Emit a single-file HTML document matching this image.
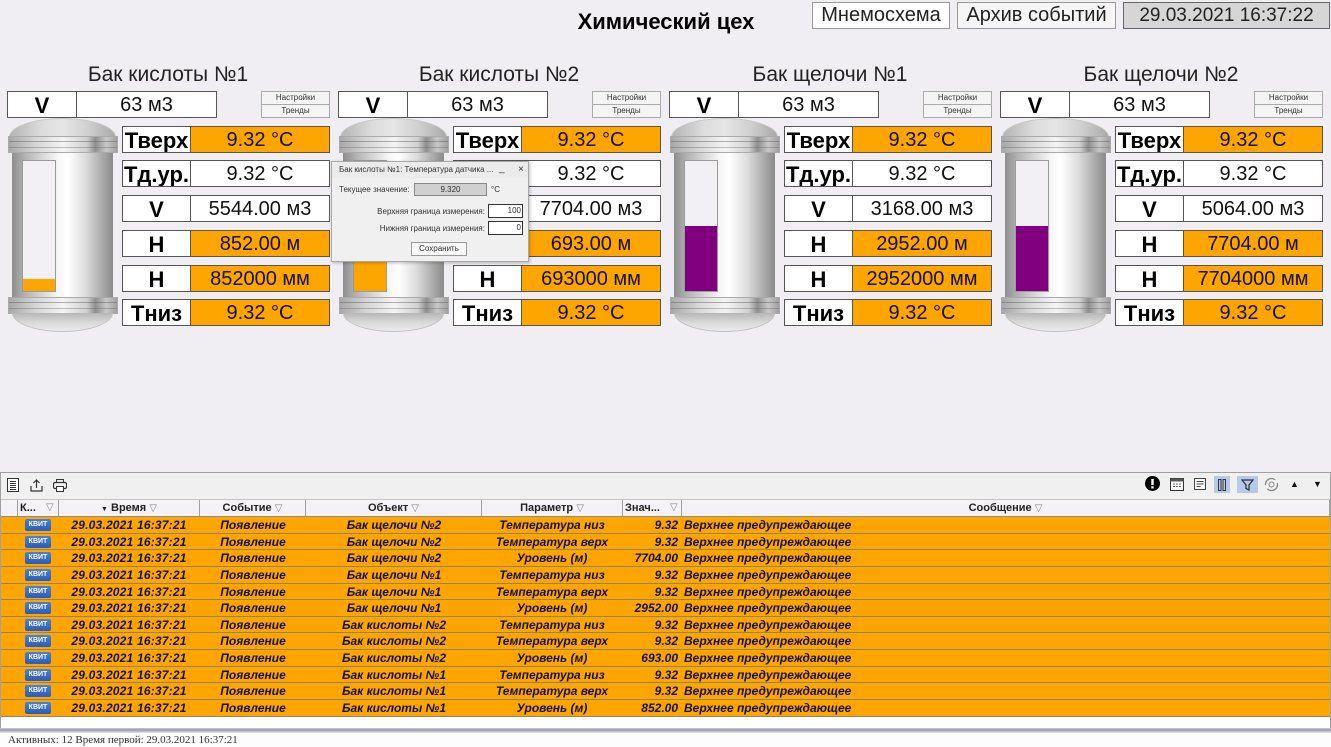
<!DOCTYPE html>
<html>
<head>
<meta charset="utf-8">
<style>
*{box-sizing:border-box;}
body{margin:0;width:1331px;height:747px;background:#f1eef3;position:relative;overflow:hidden;font-family:"Liberation Sans","DejaVu Sans",sans-serif;color:#000;}
.a{position:absolute;}
.title{left:560px;top:9px;width:212px;text-align:center;font-weight:bold;font-size:22px;line-height:26px;}
.btn{position:absolute;top:2px;height:27px;border:1px solid #999;background:#fff;font-size:20px;line-height:25px;text-align:center;color:#222;}
.unit{position:absolute;top:0;width:330px;height:340px;}
.ut{position:absolute;left:60px;top:62px;width:200px;text-align:center;font-size:21px;line-height:26px;color:#222;}
.box{position:absolute;height:27px;border:1px solid #555;background:#fff;text-align:center;line-height:27px;overflow:hidden;}
.lb{font-weight:bold;font-size:22px;}
.vl{font-size:20px;color:#111;}
.or{background:#ffa500;}
.sb{position:absolute;left:253px;width:69px;height:14px;border:1px solid #aaa;background:#f4f4f4;font-size:8px;line-height:12px;text-align:center;color:#333;}
.dome{position:absolute;left:1px;top:118px;width:107px;height:19px;border-radius:50% 50% 0 0/100% 100% 0 0;background:linear-gradient(90deg,#b4b4b4,#dcdcdc 30%,#e6e6e6 50%,#cfcfcf 75%,#a9a9a9);border:1px solid #c8c8c8;border-bottom:none;}
.fl{position:absolute;left:0;width:110px;height:17px;background:linear-gradient(90deg,#a8a8a8,#d6d6d6 25%,#f4f4f4 50%,#d0d0d0 72%,#8f8f8f 80%,#c8c8c8 90%,#a0a0a0);border:1px solid #aaa;}
.fl:before{content:"";position:absolute;left:0;right:0;top:4px;height:1px;background:rgba(90,90,90,0.45);}
.fl:after{content:"";position:absolute;left:0;right:0;top:10px;height:1px;background:rgba(90,90,90,0.35);}
.body{position:absolute;left:4px;top:152px;width:101px;height:146px;background:linear-gradient(90deg,#8e8e8e 0%,#b0b0b0 12%,#d8d8d8 30%,#f6f6f6 45%,#ffffff 55%,#dedede 72%,#b4b4b4 86%,#8a8a8a 100%);}
.bdome{position:absolute;left:4px;top:313px;width:101px;height:19px;border-radius:0 0 50% 50%/0 0 100% 100%;background:linear-gradient(180deg,#b6b6b6,#d8d8d8 50%,#ececec);border:1px solid #c0c0c0;border-top:none;}
.win{position:absolute;left:14px;top:160px;width:34px;height:132px;border:1px solid #9a9a9a;background:#f3f0f5;overflow:hidden;}
.fill{position:absolute;left:0;right:0;bottom:0;}
.panel{position:absolute;left:0;top:472px;width:1331px;height:275px;background:#fff;border-top:1px solid #a0a0a0;}
.tb{position:absolute;left:0;top:473px;width:1331px;height:27px;background:#f0f0f0;border-bottom:1px solid #c4c4c4;}
.hdr{position:absolute;left:0;top:500px;width:1331px;height:17px;background:#f4f2f6;border-bottom:1px solid #8a8a8a;font-size:11px;font-weight:bold;color:#222;}
.hc{position:absolute;top:0;height:16px;line-height:16px;border-right:1px solid #a0a0a0;text-align:center;white-space:nowrap;}
.fi{color:#888;font-weight:normal;font-size:10px;}
.row{position:absolute;left:1px;width:1329px;height:16.64px;background:#ffa500;border-bottom:1px solid #8f8272;font-size:12px;font-weight:bold;font-style:italic;color:#111;}
.row span{position:absolute;top:0;line-height:16px;white-space:nowrap;}
.kv{left:24px;top:2px!important;width:26px;height:12px;line-height:12px!important;background:linear-gradient(#4a80d8,#2a5cb8);border-radius:2px;color:#fff;font-size:7px;font-style:normal;text-align:center;letter-spacing:0!important;}
.ct{left:57px;width:142px;text-align:center;letter-spacing:0.2px;}
.ce{left:199px;width:106px;text-align:center;}
.co{left:305px;width:176px;text-align:center;}
.cp{left:481px;width:140px;text-align:center;}
.cv{left:621px;width:56px;text-align:right;}
.cm{left:683px;}
.dlg{position:absolute;left:331px;top:161px;width:198px;height:101px;background:#f0f0f0;border:1px solid #a8a8a8;box-shadow:1px 1px 3px rgba(0,0,0,0.25);font-size:8px;color:#333;z-index:10;}
.dlg .a{line-height:12px;white-space:nowrap;}
</style>
</head>
<body>

<div class="a title">Химический цех</div>
<div class="btn" style="left:812px;width:138px;">Мнемосхема</div>
<div class="btn" style="left:957px;width:159px;background:#f6f6f6;">Архив событий</div>
<div class="btn" style="left:1123px;width:207px;background:#d6d6d6;border-color:#666;font-size:19px;">29.03.2021 16:37:22</div>

<!-- Unit 1 -->
<div class="unit" style="left:8px;">
  <div class="ut">Бак кислоты №1</div>
  <div class="box lb" style="left:-1px;top:91px;width:70px;">V</div>
  <div class="box vl" style="left:68px;top:91px;width:141px;">63 м3</div>
  <div class="sb" style="top:91px;">Настройки</div>
  <div class="sb" style="top:104px;">Тренды</div>
  <div class="dome"></div>
  <div class="body"></div>
  <div class="fl" style="top:136px;"></div>
  <div class="win"><div class="fill" style="height:12px;background:#ffa500;"></div></div>
  <div class="fl" style="top:297px;"></div>
  <div class="bdome"></div>
  <div class="box lb" style="left:114px;top:126px;width:69px;">Тверх</div>
  <div class="box vl or" style="left:182px;top:126px;width:140px;">9.32 °C</div>
  <div class="box lb" style="left:114px;top:160px;width:69px;">Тд.ур.</div>
  <div class="box vl" style="left:182px;top:160px;width:140px;">9.32 °C</div>
  <div class="box lb" style="left:114px;top:195px;width:69px;">V</div>
  <div class="box vl" style="left:182px;top:195px;width:140px;">5544.00 м3</div>
  <div class="box lb" style="left:114px;top:230px;width:69px;">H</div>
  <div class="box vl or" style="left:182px;top:230px;width:140px;">852.00 м</div>
  <div class="box lb" style="left:114px;top:265px;width:69px;">H</div>
  <div class="box vl or" style="left:182px;top:265px;width:140px;">852000 мм</div>
  <div class="box lb" style="left:114px;top:299px;width:69px;">Тниз</div>
  <div class="box vl or" style="left:182px;top:299px;width:140px;">9.32 °C</div>
</div>

<!-- Unit 2 -->
<div class="unit" style="left:339px;">
  <div class="ut">Бак кислоты №2</div>
  <div class="box lb" style="left:-1px;top:91px;width:70px;">V</div>
  <div class="box vl" style="left:68px;top:91px;width:141px;">63 м3</div>
  <div class="sb" style="top:91px;">Настройки</div>
  <div class="sb" style="top:104px;">Тренды</div>
  <div class="dome"></div>
  <div class="body"></div>
  <div class="fl" style="top:136px;"></div>
  <div class="win"><div class="fill" style="height:40px;background:#ffa500;"></div></div>
  <div class="fl" style="top:297px;"></div>
  <div class="bdome"></div>
  <div class="box lb" style="left:114px;top:126px;width:69px;">Тверх</div>
  <div class="box vl or" style="left:182px;top:126px;width:140px;">9.32 °C</div>
  <div class="box lb" style="left:114px;top:160px;width:69px;">Тд.ур.</div>
  <div class="box vl" style="left:182px;top:160px;width:140px;">9.32 °C</div>
  <div class="box lb" style="left:114px;top:195px;width:69px;">V</div>
  <div class="box vl" style="left:182px;top:195px;width:140px;">7704.00 м3</div>
  <div class="box lb" style="left:114px;top:230px;width:69px;">H</div>
  <div class="box vl or" style="left:182px;top:230px;width:140px;">693.00 м</div>
  <div class="box lb" style="left:114px;top:265px;width:69px;">H</div>
  <div class="box vl or" style="left:182px;top:265px;width:140px;">693000 мм</div>
  <div class="box lb" style="left:114px;top:299px;width:69px;">Тниз</div>
  <div class="box vl or" style="left:182px;top:299px;width:140px;">9.32 °C</div>
</div>

<!-- Unit 3 -->
<div class="unit" style="left:670px;">
  <div class="ut">Бак щелочи №1</div>
  <div class="box lb" style="left:-1px;top:91px;width:70px;">V</div>
  <div class="box vl" style="left:68px;top:91px;width:141px;">63 м3</div>
  <div class="sb" style="top:91px;">Настройки</div>
  <div class="sb" style="top:104px;">Тренды</div>
  <div class="dome"></div>
  <div class="body"></div>
  <div class="fl" style="top:136px;"></div>
  <div class="win"><div class="fill" style="height:65px;background:#800080;"></div></div>
  <div class="fl" style="top:297px;"></div>
  <div class="bdome"></div>
  <div class="box lb" style="left:114px;top:126px;width:69px;">Тверх</div>
  <div class="box vl or" style="left:182px;top:126px;width:140px;">9.32 °C</div>
  <div class="box lb" style="left:114px;top:160px;width:69px;">Тд.ур.</div>
  <div class="box vl" style="left:182px;top:160px;width:140px;">9.32 °C</div>
  <div class="box lb" style="left:114px;top:195px;width:69px;">V</div>
  <div class="box vl" style="left:182px;top:195px;width:140px;">3168.00 м3</div>
  <div class="box lb" style="left:114px;top:230px;width:69px;">H</div>
  <div class="box vl or" style="left:182px;top:230px;width:140px;">2952.00 м</div>
  <div class="box lb" style="left:114px;top:265px;width:69px;">H</div>
  <div class="box vl or" style="left:182px;top:265px;width:140px;">2952000 мм</div>
  <div class="box lb" style="left:114px;top:299px;width:69px;">Тниз</div>
  <div class="box vl or" style="left:182px;top:299px;width:140px;">9.32 °C</div>
</div>

<!-- Unit 4 -->
<div class="unit" style="left:1001px;">
  <div class="ut">Бак щелочи №2</div>
  <div class="box lb" style="left:-1px;top:91px;width:70px;">V</div>
  <div class="box vl" style="left:68px;top:91px;width:141px;">63 м3</div>
  <div class="sb" style="top:91px;">Настройки</div>
  <div class="sb" style="top:104px;">Тренды</div>
  <div class="dome"></div>
  <div class="body"></div>
  <div class="fl" style="top:136px;"></div>
  <div class="win"><div class="fill" style="height:65px;background:#800080;"></div></div>
  <div class="fl" style="top:297px;"></div>
  <div class="bdome"></div>
  <div class="box lb" style="left:114px;top:126px;width:69px;">Тверх</div>
  <div class="box vl or" style="left:182px;top:126px;width:140px;">9.32 °C</div>
  <div class="box lb" style="left:114px;top:160px;width:69px;">Тд.ур.</div>
  <div class="box vl" style="left:182px;top:160px;width:140px;">9.32 °C</div>
  <div class="box lb" style="left:114px;top:195px;width:69px;">V</div>
  <div class="box vl" style="left:182px;top:195px;width:140px;">5064.00 м3</div>
  <div class="box lb" style="left:114px;top:230px;width:69px;">H</div>
  <div class="box vl or" style="left:182px;top:230px;width:140px;">7704.00 м</div>
  <div class="box lb" style="left:114px;top:265px;width:69px;">H</div>
  <div class="box vl or" style="left:182px;top:265px;width:140px;">7704000 мм</div>
  <div class="box lb" style="left:114px;top:299px;width:69px;">Тниз</div>
  <div class="box vl or" style="left:182px;top:299px;width:140px;">9.32 °C</div>
</div>

<!-- Dialog -->
<div class="dlg">
  <div class="a" style="left:0;top:0;width:196px;height:16px;background:#ebebeb;"></div>
  <div class="a" style="left:7px;top:2px;">Бак кислоты №1: Температура датчика ...</div>
  <div class="a" style="left:167px;top:1px;font-size:10px;">_</div>
  <div class="a" style="left:186px;top:2px;font-size:10px;">×</div>
  <div class="a" style="left:7px;top:22px;">Текущее значение:</div>
  <div class="a" style="left:82px;top:21px;width:73px;height:13px;background:#d0d0d0;border:1px solid #888;text-align:center;line-height:11px!important;">9.320</div>
  <div class="a" style="left:159px;top:22px;">°C</div>
  <div class="a" style="left:10px;top:44px;width:143px;text-align:right;">Верхняя граница измерения:</div>
  <div class="a" style="left:156px;top:42px;width:35px;height:14px;background:#fff;border:1px solid #333;text-align:right;padding-right:1px;line-height:12px!important;">100</div>
  <div class="a" style="left:10px;top:61px;width:143px;text-align:right;">Нижняя граница измерения:</div>
  <div class="a" style="left:156px;top:59px;width:35px;height:14px;background:#fff;border:1px solid #333;text-align:right;padding-right:1px;line-height:12px!important;">0</div>
  <div class="a" style="left:79px;top:80px;width:56px;height:14px;background:#f8f8f8;border:1px solid #9a9a9a;text-align:center;">Сохранить</div>
</div>

<!-- Bottom panel -->
<div class="panel"></div>
<div class="tb"></div>
<svg class="a" style="left:7px;top:478px;" width="12" height="14" viewBox="0 0 12 14"><rect x="0.5" y="0.5" width="11" height="13" fill="#fff" stroke="#333"/><path d="M3 3.5h6M3 5.5h6M3 7.5h6M3 9.5h6M3 11.5h6" stroke="#333"/></svg>
<svg class="a" style="left:30px;top:479px;" width="13" height="13" viewBox="0 0 13 13"><path d="M6.5 1v8M3.5 4l3-3 3 3" stroke="#333" fill="none" stroke-width="1.2"/><path d="M1 7v5h11V7" stroke="#333" fill="none" stroke-width="1.2"/></svg>
<svg class="a" style="left:53px;top:479px;" width="14" height="13" viewBox="0 0 14 13"><rect x="3.5" y="0.5" width="7" height="3" fill="none" stroke="#333"/><rect x="0.5" y="3.5" width="13" height="6" rx="1.5" fill="none" stroke="#333" stroke-width="1.2"/><rect x="3.5" y="7.5" width="7" height="5" fill="#fff" stroke="#333"/></svg>
<svg class="a" style="left:1145px;top:476px;" width="15" height="15" viewBox="0 0 15 15"><circle cx="7.5" cy="7.5" r="7.5" fill="#000"/><rect x="6.3" y="3" width="2.4" height="6" fill="#fff"/><rect x="6.3" y="10.3" width="2.4" height="2.2" fill="#fff"/></svg>
<svg class="a" style="left:1170px;top:477px;" width="14" height="14" viewBox="0 0 14 14"><rect x="0.5" y="1.5" width="13" height="12" fill="#fff" stroke="#333"/><rect x="0.5" y="1.5" width="13" height="3" fill="#555"/><path d="M3 7h2M6 7h2M9 7h2M3 9.5h2M6 9.5h2M9 9.5h2" stroke="#666"/></svg>
<svg class="a" style="left:1194px;top:478px;" width="12" height="12" viewBox="0 0 12 12"><rect x="0.5" y="0.5" width="11" height="11" fill="#fff" stroke="#444"/><path d="M2.5 3.5h7M2.5 6h7M2.5 8.5h4" stroke="#444"/></svg>
<div class="a" style="left:1214px;top:476px;width:16px;height:17px;background:#b5c9e8;"></div>
<svg class="a" style="left:1217px;top:479px;" width="10" height="12" viewBox="0 0 10 12"><rect x="1.5" y="0.5" width="2.5" height="11" fill="none" stroke="#333"/><rect x="6" y="0.5" width="2.5" height="11" fill="none" stroke="#333"/></svg>
<div class="a" style="left:1237px;top:476px;width:21px;height:17px;background:#b5c9e8;"></div>
<svg class="a" style="left:1241px;top:479px;" width="13" height="12" viewBox="0 0 13 12"><path d="M1 1h11l-4 5v5l-3-1.5V6z" fill="none" stroke="#333" stroke-width="1.3"/></svg>
<svg class="a" style="left:1264px;top:477px;" width="15" height="15" viewBox="0 0 15 15"><circle cx="7.5" cy="7.5" r="6" fill="none" stroke="#888" stroke-width="1.3" stroke-dasharray="14 4"/><circle cx="7.5" cy="7.5" r="2.5" fill="none" stroke="#888"/></svg>
<div class="a" style="left:1290px;top:478px;font-size:9px;line-height:12px;color:#111;">▲</div>
<div class="a" style="left:1313px;top:478px;font-size:9px;line-height:12px;color:#111;">▼</div>

<div class="hdr">
  <div class="hc" style="left:0;width:18px;"></div>
  <div class="hc" style="left:18px;width:41px;text-align:left;padding-left:2px;">К...<span class="fi" style="position:absolute;left:28px;">▽</span></div>
  <div class="hc" style="left:59px;width:141px;"><span style="font-size:7px;">▼</span> Время <span class="fi">▽</span></div>
  <div class="hc" style="left:200px;width:106px;">Событие <span class="fi">▽</span></div>
  <div class="hc" style="left:306px;width:176px;">Объект <span class="fi">▽</span></div>
  <div class="hc" style="left:482px;width:141px;">Параметр <span class="fi">▽</span></div>
  <div class="hc" style="left:623px;width:59px;text-align:left;padding-left:2px;">Знач...<span class="fi" style="position:absolute;left:47px;">▽</span></div>
  <div class="hc" style="left:682px;width:648px;">Сообщение <span class="fi">▽</span></div>
</div>

<div class="row" style="top:517px;"><span class="kv">КВИТ</span><span class="ct">29.03.2021 16:37:21</span><span class="ce">Появление</span><span class="co">Бак щелочи №2</span><span class="cp">Температура низ</span><span class="cv">9.32</span><span class="cm">Верхнее предупреждающее</span></div>
<div class="row" style="top:533.64px;"><span class="kv">КВИТ</span><span class="ct">29.03.2021 16:37:21</span><span class="ce">Появление</span><span class="co">Бак щелочи №2</span><span class="cp">Температура верх</span><span class="cv">9.32</span><span class="cm">Верхнее предупреждающее</span></div>
<div class="row" style="top:550.28px;"><span class="kv">КВИТ</span><span class="ct">29.03.2021 16:37:21</span><span class="ce">Появление</span><span class="co">Бак щелочи №2</span><span class="cp">Уровень (м)</span><span class="cv">7704.00</span><span class="cm">Верхнее предупреждающее</span></div>
<div class="row" style="top:566.92px;"><span class="kv">КВИТ</span><span class="ct">29.03.2021 16:37:21</span><span class="ce">Появление</span><span class="co">Бак щелочи №1</span><span class="cp">Температура низ</span><span class="cv">9.32</span><span class="cm">Верхнее предупреждающее</span></div>
<div class="row" style="top:583.56px;"><span class="kv">КВИТ</span><span class="ct">29.03.2021 16:37:21</span><span class="ce">Появление</span><span class="co">Бак щелочи №1</span><span class="cp">Температура верх</span><span class="cv">9.32</span><span class="cm">Верхнее предупреждающее</span></div>
<div class="row" style="top:600.2px;"><span class="kv">КВИТ</span><span class="ct">29.03.2021 16:37:21</span><span class="ce">Появление</span><span class="co">Бак щелочи №1</span><span class="cp">Уровень (м)</span><span class="cv">2952.00</span><span class="cm">Верхнее предупреждающее</span></div>
<div class="row" style="top:616.84px;"><span class="kv">КВИТ</span><span class="ct">29.03.2021 16:37:21</span><span class="ce">Появление</span><span class="co">Бак кислоты №2</span><span class="cp">Температура низ</span><span class="cv">9.32</span><span class="cm">Верхнее предупреждающее</span></div>
<div class="row" style="top:633.48px;"><span class="kv">КВИТ</span><span class="ct">29.03.2021 16:37:21</span><span class="ce">Появление</span><span class="co">Бак кислоты №2</span><span class="cp">Температура верх</span><span class="cv">9.32</span><span class="cm">Верхнее предупреждающее</span></div>
<div class="row" style="top:650.12px;"><span class="kv">КВИТ</span><span class="ct">29.03.2021 16:37:21</span><span class="ce">Появление</span><span class="co">Бак кислоты №2</span><span class="cp">Уровень (м)</span><span class="cv">693.00</span><span class="cm">Верхнее предупреждающее</span></div>
<div class="row" style="top:666.76px;"><span class="kv">КВИТ</span><span class="ct">29.03.2021 16:37:21</span><span class="ce">Появление</span><span class="co">Бак кислоты №1</span><span class="cp">Температура низ</span><span class="cv">9.32</span><span class="cm">Верхнее предупреждающее</span></div>
<div class="row" style="top:683.4px;"><span class="kv">КВИТ</span><span class="ct">29.03.2021 16:37:21</span><span class="ce">Появление</span><span class="co">Бак кислоты №1</span><span class="cp">Температура верх</span><span class="cv">9.32</span><span class="cm">Верхнее предупреждающее</span></div>
<div class="row" style="top:700.04px;"><span class="kv">КВИТ</span><span class="ct">29.03.2021 16:37:21</span><span class="ce">Появление</span><span class="co">Бак кислоты №1</span><span class="cp">Уровень (м)</span><span class="cv">852.00</span><span class="cm">Верхнее предупреждающее</span></div>

<div class="a" style="left:0;top:472px;width:1px;height:260px;background:#a0a0a0;"></div>
<div class="a" style="left:1330px;top:472px;width:1px;height:260px;background:#a0a0a0;"></div>
<div class="a" style="left:0;top:728px;width:1331px;height:5px;background:linear-gradient(#c8c8d4,#9a9aaa 40%,#e6e6ee);"></div>
<div class="a" style="left:0;top:733px;width:1331px;height:14px;background:#fdfdfd;"></div>
<div class="a" style="left:8px;top:734px;font-family:'Liberation Serif',serif;font-size:11px;line-height:13px;color:#333;">Активных: 12 Время первой: 29.03.2021 16:37:21</div>

</body>
</html>
